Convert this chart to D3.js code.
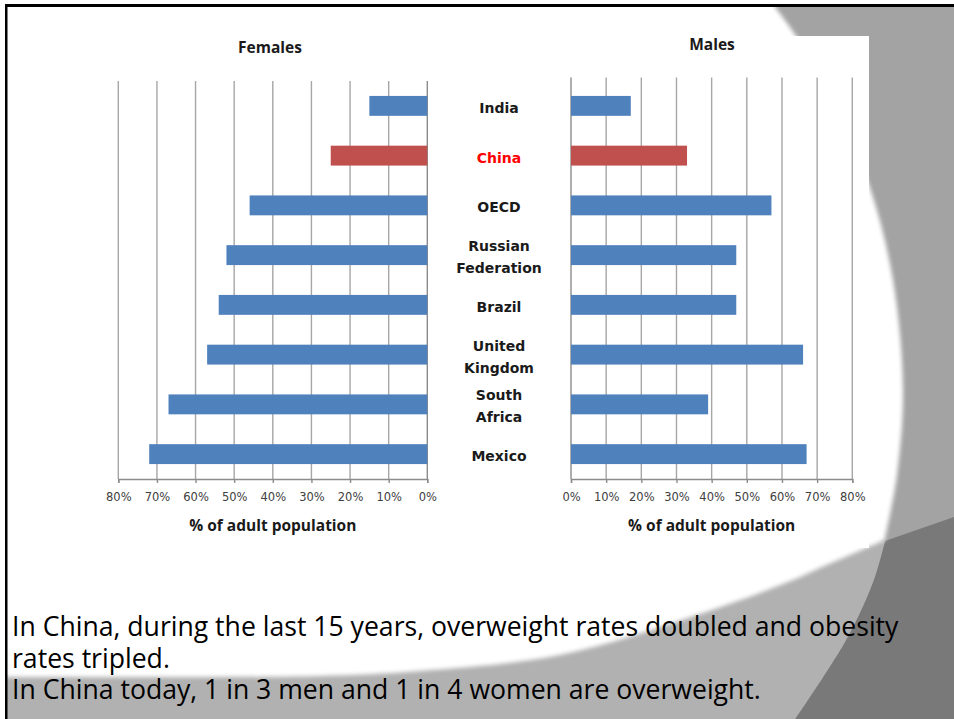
<!DOCTYPE html>
<html>
<head>
<meta charset="utf-8">
<script src="https://cdn.jsdelivr.net/npm/d3@7"></script>
<style>
  html, body { margin: 0; padding: 0; background: #fff; }
  svg { display: block; }
</style>
</head>
<body>
<svg id="slide" width="954" height="719"></svg>
<script>
// chart data
const countries = ['India', 'China', 'OECD', 'Russian Federation', 'Brazil', 'United Kingdom', 'South Africa', 'Mexico']
const labelLines = [['India'], ['China'], ['OECD'], ['Russian', 'Federation'], ['Brazil'], ['United', 'Kingdom'], ['South', 'Africa'], ['Mexico']]
const females = [15, 25, 46, 52, 54, 57, 67, 72]
const males = [17, 33, 57, 47, 47, 66, 39, 67]
const tickValues = [0, 10, 20, 30, 40, 50, 60, 70, 80]
const highlight = 'China'
const notes = [
    'In China, during the last 15 years, overweight rates doubled and obesity',
    'rates tripled.',
    'In China today, 1 in 3 men and 1 in 4 women are overweight.'
]

const colorBar = '#4f81bd'
const colorHighlight = '#c0504d'
const colorGrid = '#a6a6a6'

const svg = d3.select('#slide')

// ---- slide background ----
const defs = svg.append('defs')
defs.append('filter').attr('id', 'soft')
    .attr('x', '-5%').attr('y', '-5%').attr('width', '110%').attr('height', '110%')
    .append('feGaussianBlur').attr('stdDeviation', 2.2)

svg.append('rect').attr('width', 954).attr('height', 719).attr('fill', '#a3a3a3')

const curve = d3.line().curve(d3.curveCatmullRom.alpha(0.5))
const darkArc = [[885, 541], [873, 582], [846, 640], [795, 719]]

// dark corner
svg.append('path')
    .attr('d', 'M954,517 L885,541 ' + curve(darkArc).replace(/^M[^C]*/, '') + ' L954,719 Z')
    .attr('fill', '#797979')

// light band
svg.append('path')
    .attr('d', 'M0,719 L0,600 L885,541 ' + curve(darkArc).replace(/^M[^C]*/, '') + ' Z')
    .attr('fill', '#b1b1b1')

// white sweep
const whiteEdge = [[775, 7], [800, 42], [835, 108], [869, 185], [893, 280], [903, 390], [897, 475], [885, 538]]
const whiteBottom = [[885, 540], [822, 567], [793, 580], [700, 614], [560, 655], [420, 671], [320, 676], [150, 677], [0, 677]]
svg.append('path')
    .attr('d', 'M-20,-20 L775,-20 L775,7 ' + curve(whiteEdge).replace(/^M[^C]*/, '') +
        ' L885,540 ' + curve(whiteBottom).replace(/^M[^C]*/, '') + ' L-20,677 Z')
    .attr('fill', '#fff')
    .attr('filter', 'url(#soft)')

// chart picture area
svg.append('rect').attr('x', 100).attr('y', 36).attr('width', 769).attr('height', 512).attr('fill', '#fff')

// ---- chart ----
const xF = d3.scaleLinear().domain([0, 80]).range([427.3, 118.3])
const xM = d3.scaleLinear().domain([0, 80]).range([571, 852.3])
const y = d3.scaleBand().domain(countries).range([81, 479]).paddingInner(0.6).paddingOuter(0.3)
const axisY = 479

function drawSide(g, x, values, top, title, titleX, titleY) {
    g.selectAll('.grid')
        .data(tickValues.slice(1))
        .enter()
        .append('line')
        .attr('class', 'grid')
        .attr('x1', (d) => x(d))
        .attr('x2', (d) => x(d))
        .attr('y1', top)
        .attr('y2', axisY)
        .attr('stroke', colorGrid)
        .attr('stroke-width', 1.4)

    g.append('line')
        .attr('x1', x(0)).attr('x2', x(0))
        .attr('y1', top).attr('y2', axisY)
        .attr('stroke', '#8c8c8c')
        .attr('stroke-width', 1.4)

    g.selectAll('.bar')
        .data(values)
        .enter()
        .append('rect')
        .attr('class', 'bar')
        .attr('x', (d) => Math.min(x(0), x(d)))
        .attr('width', (d) => Math.abs(x(d) - x(0)))
        .attr('y', (d, i) => y(countries[i]))
        .attr('height', y.bandwidth())
        .attr('fill', (d, i) => countries[i] === highlight ? colorHighlight : colorBar)

    const axis = g.append('g')
        .attr('transform', `translate(0,${axisY})`)
        .call(d3.axisBottom(x).tickValues(tickValues).tickSize(4).tickPadding(10).tickFormat((d) => d + '%'))
    axis.select('.domain').attr('stroke', '#8c8c8c').attr('stroke-width', 1.4)
    axis.selectAll('.tick line').attr('stroke', '#8c8c8c').attr('stroke-width', 1.4)
    axis.selectAll('.tick text')
        .attr('fill', '#404040')
        .style('font-family', '"DejaVu Sans", sans-serif')
        .style('font-size', '11.5px')

    g.append('text')
        .attr('x', (x(0) + x(80)) / 2)
        .attr('y', 531)
        .attr('text-anchor', 'middle')
        .style('font-family', '"Open Sans", sans-serif')
        .style('font-weight', 'bold')
        .style('font-size', '15.5px')
        .attr('fill', '#1a1a1a')
        .text('% of adult population')

    g.append('text')
        .attr('x', titleX)
        .attr('y', titleY)
        .attr('text-anchor', 'middle')
        .style('font-family', '"Open Sans", sans-serif')
        .style('font-weight', 'bold')
        .style('font-size', '15.5px')
        .attr('fill', '#1a1a1a')
        .text(title)
}

drawSide(svg.append('g'), xF, females, 81, 'Females', 270, 53)
drawSide(svg.append('g'), xM, males, 77.5, 'Males', 712, 50)

// category labels in the middle
const labels = svg.selectAll('.country')
    .data(countries)
    .enter()
    .append('text')
    .attr('class', 'country')
    .attr('text-anchor', 'middle')
    .style('font-family', '"DejaVu Sans", sans-serif')
    .style('font-weight', 'bold')
    .style('font-size', '14px')
    .attr('fill', (d) => d === highlight ? '#ff0000' : '#1a1a1a')

labels.each(function (d, i) {
    const lines = labelLines[i]
    const cy = y(d) + y.bandwidth() / 2 + 2
    d3.select(this).selectAll('tspan')
        .data(lines)
        .enter()
        .append('tspan')
        .attr('x', 499)
        .attr('y', (l, j) => cy + (j - (lines.length - 1) / 2) * 22 + 5)
        .text((l) => l)
})

// ---- slide text ----
svg.selectAll('.note')
    .data(notes)
    .enter()
    .append('text')
    .attr('class', 'note')
    .attr('x', 12)
    .attr('y', (d, i) => 636 + i * 31.5)
    .style('font-family', '"Open Sans", sans-serif')
    .style('font-size', '26.6px')
    .attr('fill', '#000')
    .text((d) => d)

// slide frame
svg.append('rect').attr('x', 0).attr('y', 0).attr('width', 954).attr('height', 4).attr('fill', '#fff')
svg.append('rect').attr('x', 0).attr('y', 0).attr('width', 5).attr('height', 719).attr('fill', '#fff')
svg.append('rect').attr('x', 5).attr('y', 4).attr('width', 949).attr('height', 3).attr('fill', '#000')
svg.append('rect').attr('x', 5).attr('y', 4).attr('width', 2.5).attr('height', 715).attr('fill', '#000')
</script>
</body>
</html>
